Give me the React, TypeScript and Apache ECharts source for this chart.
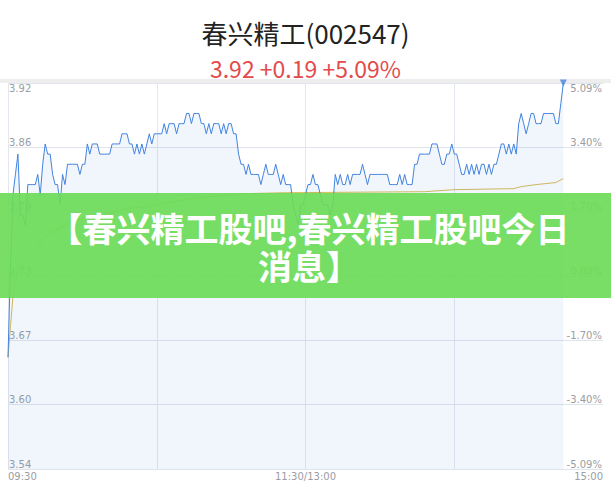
import React, { useEffect, useRef } from "react";
import * as echarts from "echarts";

const PREV_CLOSE = 3.73;
const RANGE = 0.19;
const STEP = RANGE / 3;
const TITLE = "春兴精工(002547)";
const QUOTE = "3.92 +0.19 +5.09%";
const BANNER_LINES = ["【春兴精工股吧,春兴精工股吧今日", "消息】"];

// minute price, 09:30 onwards (index = minute of the session)
const PRICES: number[] = [
  3.65, 3.74, 3.81, 3.83, 3.85, 3.79, 3.79, 3.78, 3.82, 3.82,
  3.82, 3.82, 3.83, 3.81, 3.84, 3.86, 3.85, 3.85, 3.83, 3.82,
  3.82, 3.80, 3.83, 3.82, 3.84, 3.84, 3.84, 3.84, 3.84, 3.83,
  3.84, 3.84, 3.86, 3.85, 3.86, 3.86, 3.86, 3.85, 3.85, 3.85,
  3.85, 3.85, 3.86, 3.86, 3.86, 3.86, 3.87, 3.87, 3.87, 3.86,
  3.86, 3.85, 3.86, 3.85, 3.86, 3.85, 3.86, 3.87, 3.86, 3.87,
  3.87, 3.87, 3.87, 3.88, 3.87, 3.88, 3.88, 3.88, 3.87, 3.88,
  3.88, 3.88, 3.89, 3.89, 3.88, 3.89, 3.89, 3.89, 3.88, 3.88,
  3.87, 3.88, 3.87, 3.88, 3.88, 3.88, 3.87, 3.88, 3.87, 3.88,
  3.88, 3.87, 3.87, 3.85, 3.84, 3.84, 3.83, 3.84, 3.83, 3.83,
  3.83, 3.83, 3.82, 3.83, 3.84, 3.83, 3.83, 3.83, 3.84, 3.83,
  3.82, 3.83, 3.82, 3.82, 3.82, 3.80, 3.79, 3.78, 3.80, 3.80,
  3.81, 3.82, 3.82, 3.83, 3.82, 3.82, 3.81, 3.80, 3.80, 3.80,
  3.79, 3.80, 3.83, 3.82, 3.83, 3.82, 3.82, 3.83, 3.82, 3.83,
  3.83, 3.83, 3.83, 3.84, 3.83, 3.82, 3.83, 3.83, 3.83, 3.83,
  3.83, 3.83, 3.83, 3.83, 3.82, 3.82, 3.82, 3.82, 3.83, 3.82,
  3.83, 3.82, 3.82, 3.82, 3.84, 3.84, 3.85, 3.85, 3.85, 3.85,
  3.85, 3.86, 3.86, 3.86, 3.85, 3.84, 3.84, 3.85, 3.85, 3.86,
  3.85, 3.85, 3.84, 3.83, 3.83, 3.84, 3.83, 3.84, 3.83, 3.84,
  3.83, 3.84, 3.84, 3.83, 3.84, 3.83, 3.84, 3.84, 3.85, 3.86,
  3.86, 3.85, 3.86, 3.85, 3.86, 3.85, 3.88, 3.89, 3.88, 3.87,
  3.88, 3.89, 3.89, 3.88, 3.88, 3.88, 3.89, 3.89, 3.89, 3.89,
  3.89, 3.88, 3.88, 3.90, 3.92,
];

// average price, read at [minute index, value]
const AVG_POINTS: [number, number][] = [
  [0, 3.65], [1, 3.68], [2, 3.71], [3, 3.725], [4, 3.734], [6, 3.744],
  [9, 3.752], [12, 3.759], [14, 3.766], [17, 3.772], [21, 3.778],
  [26, 3.783], [32, 3.788], [40, 3.792], [50, 3.797], [55, 3.798],
  [73, 3.806], [94, 3.811], [112, 3.812], [168, 3.813], [180, 3.815],
  [204, 3.816], [207, 3.818], [213, 3.82], [221, 3.822], [224, 3.826],
];

const pad = (n: number) => (n < 10 ? "0" + n : "" + n);
const fmt = (m: number) => pad(Math.floor(m / 60)) + ":" + pad(m % 60);
const TIMES: string[] = [];
for (let m = 9 * 60 + 30; m <= 11 * 60 + 30; m++) TIMES.push(fmt(m));
for (let m = 13 * 60 + 1; m <= 15 * 60; m++) TIMES.push(fmt(m));
TIMES[120] = "11:30/13:00";

const toUnit = (p: number) => (p - PREV_CLOSE) / STEP;

export default function App() {
  const ref = useRef<HTMLDivElement>(null);
  useEffect(() => {
    if (!ref.current) return;
    const chart = echarts.init(ref.current, undefined, { renderer: "svg" });
    const labelColor = "#9a9da3";
    const gridColor = "#dfe4ec";
    const blue = "#4283e0";
    const lastIdx = PRICES.length - 1;
    chart.setOption({
      animation: false,
      backgroundColor: "#ffffff",
      title: [
        {
          text: TITLE,
          left: "center",
          top: 12,
          textStyle: {
            fontSize: 26,
            fontWeight: "normal",
            color: "#222222",
            fontFamily: "Noto Sans CJK SC",
            lineHeight: 30,
          },
        },
        {
          text: QUOTE,
          left: "center",
          top: 50,
          textStyle: {
            fontSize: 23,
            fontWeight: "normal",
            color: "#e34b4b",
            fontFamily: "Noto Sans CJK SC",
            lineHeight: 26,
          },
        },
      ],
      grid: { left: 8, right: 8, top: 83, bottom: 23, containLabel: false },
      xAxis: {
        type: "category",
        data: TIMES,
        boundaryGap: false,
        axisLine: { show: false },
        axisTick: { show: false },
        axisLabel: {
          interval: (i: number) => i % 120 === 0,
          color: labelColor,
          fontSize: 10,
          fontFamily: "DejaVu Sans",
          margin: 2,
          alignMinLabel: "left",
          alignMaxLabel: "right",
        },
        splitLine: {
          show: true,
          interval: (i: number) => i % 60 === 0 && i < 240,
          lineStyle: { color: "#e3e7ee", width: 1 },
        },
      },
      yAxis: [
        {
          type: "value",
          min: -3,
          max: 3,
          interval: 1,
          position: "left",
          axisLine: { show: false },
          axisTick: { show: false },
          axisLabel: {
            inside: true,
            margin: 1,
            color: labelColor,
            fontSize: 10,
            fontFamily: "DejaVu Sans",
            verticalAlign: "bottom",
            verticalAlignMaxLabel: "top",
            formatter: (v: number) => (PREV_CLOSE + v * STEP).toFixed(2),
          },
          splitLine: {
            show: true,
            lineStyle: {
              color: [gridColor, gridColor, gridColor, "rgba(0,0,0,0)", gridColor, gridColor, gridColor],
              width: 1,
            },
          },
        },
        {
          type: "value",
          min: -3,
          max: 3,
          interval: 1,
          position: "right",
          axisLine: { show: false },
          axisTick: { show: false },
          axisLabel: {
            inside: true,
            margin: 1,
            color: labelColor,
            fontSize: 10,
            fontFamily: "DejaVu Sans",
            verticalAlign: "bottom",
            verticalAlignMaxLabel: "top",
            formatter: (v: number) => ((v * STEP) / PREV_CLOSE * 100).toFixed(2) + "%",
          },
          splitLine: { show: false },
        },
      ],
      series: [
        {
          type: "line",
          data: PRICES.map(toUnit),
          showSymbol: false,
          symbol: "none",
          lineStyle: { color: blue, width: 1 },
          areaStyle: { color: "rgba(60,125,230,0.1)", origin: "start" },
          markLine: {
            silent: true,
            symbol: "none",
            label: { show: false },
            lineStyle: { type: "dashed", color: "#b8bcc3", width: 1 },
            data: [{ yAxis: 0 }],
          },
          z: 3,
        },
        {
          type: "line",
          data: AVG_POINTS.map(([i, v]) => [i, toUnit(v)]),
          showSymbol: false,
          symbol: "none",
          lineStyle: { color: "#d9bb55", width: 1 },
          z: 2,
        },
        {
          type: "scatter",
          data: [[lastIdx, toUnit(PRICES[lastIdx])]],
          symbol: "triangle",
          symbolRotate: 180,
          symbolSize: 7,
          itemStyle: { color: blue },
          z: 4,
        },
      ],
      graphic: [
        {
          type: "rect",
          shape: { x: 0, y: 79, width: 611, height: 4 },
          style: { fill: "#eeeeee" },
          z: 1,
        },
        {
          type: "rect",
          shape: { x: 0, y: 193, width: 611, height: 105 },
          style: { fill: "rgba(108,219,88,0.92)" },
          z: 100,
        },
        {
          type: "text",
          x: 309,
          y: 246,
          style: {
            text: BANNER_LINES.join("\n"),
            fill: "#ffffff",
            font: 'bold 34px "Noto Sans CJK SC"',
            align: "center",
            verticalAlign: "middle",
            lineHeight: 38,
          },
          z: 101,
        },
      ],
    });
    return () => chart.dispose();
  }, []);
  return (
    <div
      ref={ref}
      style={{ position: "absolute", left: 0, top: 0, width: 611, height: 492 }}
    />
  );
}
